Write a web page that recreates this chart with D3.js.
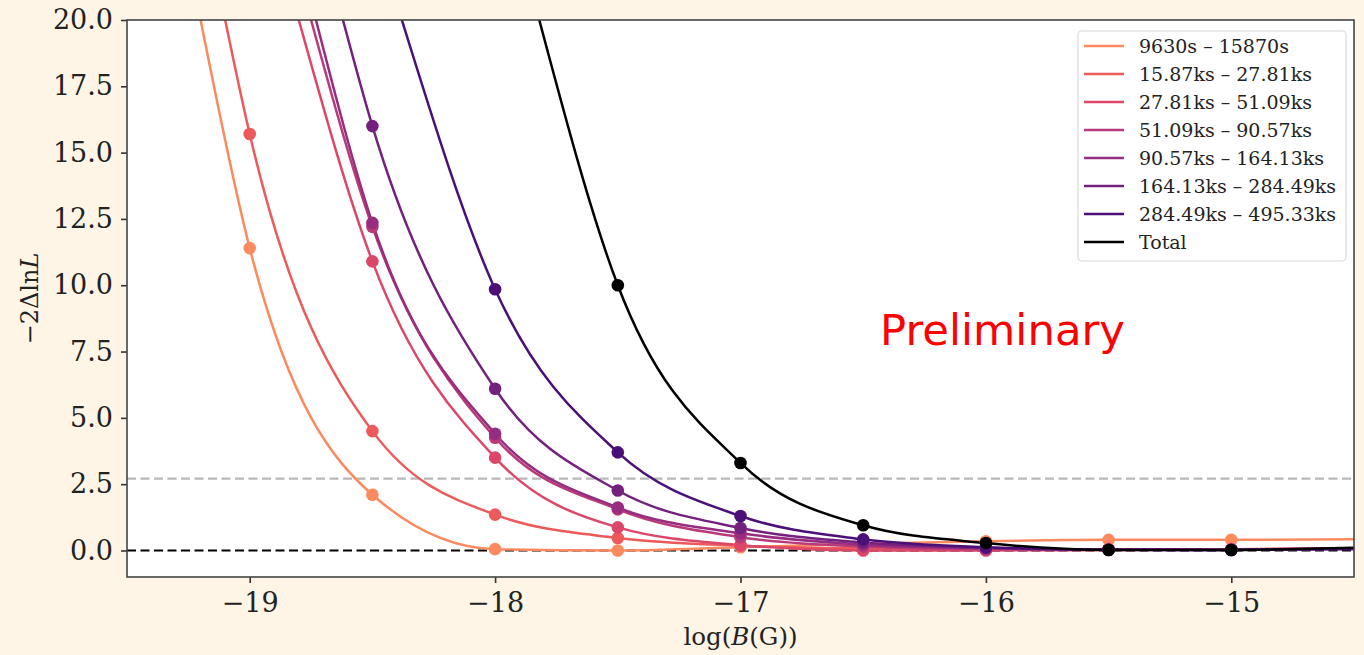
<!DOCTYPE html>
<html>
<head>
<meta charset="utf-8">
<script src="https://cdn.jsdelivr.net/npm/d3@7"></script>
<style>
  html, body { margin: 0; padding: 0; background: #fef5e6; }
  svg { display: block; }
</style>
</head>
<body>
<svg id="chart" width="1364" height="655"></svg>
<script>
// ---------- data ----------
const xPoints = [-19, -18.5, -18, -17.5, -17, -16.5, -16, -15.5, -15];
const seriesNames = [
  "9630s – 15870s",
  "15.87ks – 27.81ks",
  "27.81ks – 51.09ks",
  "51.09ks – 90.57ks",
  "90.57ks – 164.13ks",
  "164.13ks – 284.49ks",
  "284.49ks – 495.33ks",
  "Total"
];
const seriesColors = ["#fb8a5f", "#ec5a5c", "#dc4769", "#b93a78", "#962d80", "#74207f", "#4b1077", "#000000"];
// -2ΔlnL at the sampled log(B) values (null = off the top of the plot)
const v0 = [11.4, 2.1, 0.05, 0.0, 0.12, 0.25, 0.35, 0.4, 0.4];
const v1 = [15.7, 4.5, 1.35, 0.47, 0.18, 0.08, 0.05, 0.05, 0.05];
const v2 = [null, 10.9, 3.5, 0.87, 0.2, 0.0, 0.0, 0.02, 0.04];
const v3 = [null, 12.2, 4.25, 1.55, 0.5, 0.15, 0.05, 0.03, 0.03];
const v4 = [null, 12.35, 4.4, 1.62, 0.65, 0.22, 0.08, 0.03, 0.03];
const v5 = [null, 16.0, 6.1, 2.26, 0.85, 0.3, 0.1, 0.03, 0.02];
const v6 = [null, null, 9.85, 3.7, 1.3, 0.42, 0.12, 0.03, 0.02];
const vTot = [null, null, null, 10.0, 3.3, 0.95, 0.28, 0.02, 0.02];
const seriesValues = [v0, v1, v2, v3, v4, v5, v6, vTot];
// where each fitted curve leaves the top of the plot (log B at -2ΔlnL = 20)
const curveTopX = [-19.2, -19.1, -18.8, -18.75, -18.73, -18.62, -18.38, -17.82];
// fitted curve value at the right edge (log B = -14.5)
const curveEndY = [0.42, 0.08, 0.08, 0.07, 0.07, 0.06, 0.06, 0.1];
const xTicks = [-19, -18, -17, -16, -15];
const yTicks = [0, 2.5, 5, 7.5, 10, 12.5, 15, 17.5, 20];
const xDomain = [-19.5, -14.5];
const yDomain = [-1, 20];
const threshold = 2.71;

// ---------- layout ----------
const L = 127, R = 1354, T = 20, B = 577;
const svg = d3.select("#chart");
const x = d3.scaleLinear().domain(xDomain).range([L, R]);
const y = d3.scaleLinear().domain(yDomain).range([B, T]);

svg.append("rect").attr("x", L).attr("y", T).attr("width", R - L).attr("height", B - T).attr("fill", "#fff");

svg.append("clipPath").attr("id", "clip").append("rect")
  .attr("x", L).attr("y", T).attr("width", R - L).attr("height", B - T);

const plot = svg.append("g").attr("clip-path", "url(#clip)");

// reference lines
plot.append("line").attr("x1", L).attr("x2", R).attr("y1", y(threshold)).attr("y2", y(threshold))
  .attr("stroke", "#b8b8b8").attr("stroke-width", 2.2).attr("stroke-dasharray", "9,4.5");
plot.append("line").attr("x1", L).attr("x2", R).attr("y1", y(0)).attr("y2", y(0))
  .attr("stroke", "#000").attr("stroke-width", 2.2).attr("stroke-dasharray", "9,4.5");

const line = d3.line().x(d => x(d[0])).y(d => y(d[1])).curve(d3.curveMonotoneX);

seriesValues.forEach((vals, i) => {
  const pts = [[curveTopX[i], 20]];
  xPoints.forEach((xv, j) => { if (vals[j] !== null) pts.push([xv, vals[j]]); });
  pts.push([xDomain[1], curveEndY[i]]);
  plot.append("path").datum(pts).attr("d", line)
    .attr("fill", "none").attr("stroke", seriesColors[i]).attr("stroke-width", 2.5);
});
seriesValues.forEach((vals, i) => {
  const pts = xPoints.map((xv, j) => [xv, vals[j]]).filter(d => d[1] !== null);
  plot.selectAll(null).data(pts).enter().append("circle")
    .attr("cx", d => x(d[0])).attr("cy", d => y(d[1])).attr("r", 6.3)
    .attr("fill", seriesColors[i]);
});

// axes
const tickFont = "'DejaVu Serif', serif";
const xAxis = svg.append("g").attr("transform", `translate(0,${B})`)
  .call(d3.axisBottom(x).tickValues(xTicks).tickSize(6).tickPadding(10)
    .tickFormat(d => "\u2212" + Math.abs(d)));
const yAxis = svg.append("g").attr("transform", `translate(${L},0)`)
  .call(d3.axisLeft(y).tickValues(yTicks).tickSize(6).tickPadding(8)
    .tickFormat(d3.format(".1f")));
[xAxis, yAxis].forEach(g => {
  g.select(".domain").remove();
  g.selectAll(".tick line").attr("stroke", "#333").attr("stroke-width", 1.6);
  g.selectAll(".tick text").attr("font-family", tickFont).attr("font-size", 27).attr("fill", "#222");
});

// spines
svg.append("rect").attr("x", L).attr("y", T).attr("width", R - L).attr("height", B - T)
  .attr("fill", "none").attr("stroke", "#444").attr("stroke-width", 1.6);

// axis labels
const xl = svg.append("text").attr("x", (L + R) / 2).attr("y", 645).attr("text-anchor", "middle")
  .attr("font-family", tickFont).attr("font-size", 24.5).attr("fill", "#222");
xl.append("tspan").text("log(");
xl.append("tspan").attr("font-style", "italic").text("B");
xl.append("tspan").text("(G))");

const yl = svg.append("text").attr("transform", `translate(38,${(T + B) / 2}) rotate(-90)`)
  .attr("text-anchor", "middle").attr("font-family", tickFont).attr("font-size", 24).attr("fill", "#222");
yl.append("tspan").text("\u22122\u0394ln");
yl.append("tspan").attr("font-style", "italic").text("L");

// Preliminary
svg.append("text").attr("x", 880).attr("y", 345).attr("font-family", "'DejaVu Sans', sans-serif")
  .attr("font-size", 43.4).attr("fill", "#ff0000").text("Preliminary");

// legend
const lg = svg.append("g");
lg.append("rect").attr("x", 1078).attr("y", 31).attr("width", 268).attr("height", 230).attr("rx", 4)
  .attr("fill", "#fff").attr("stroke", "#d8d8d8").attr("stroke-width", 1.2);
seriesNames.forEach((name, i) => {
  const cy = 46 + i * 28;
  lg.append("line").attr("x1", 1084).attr("x2", 1124).attr("y1", cy).attr("y2", cy)
    .attr("stroke", seriesColors[i]).attr("stroke-width", 2.5);
  lg.append("text").attr("x", 1139).attr("y", cy + 6.5).attr("font-family", tickFont)
    .attr("font-size", 19).attr("fill", "#222").text(name);
});
</script>
</body>
</html>
